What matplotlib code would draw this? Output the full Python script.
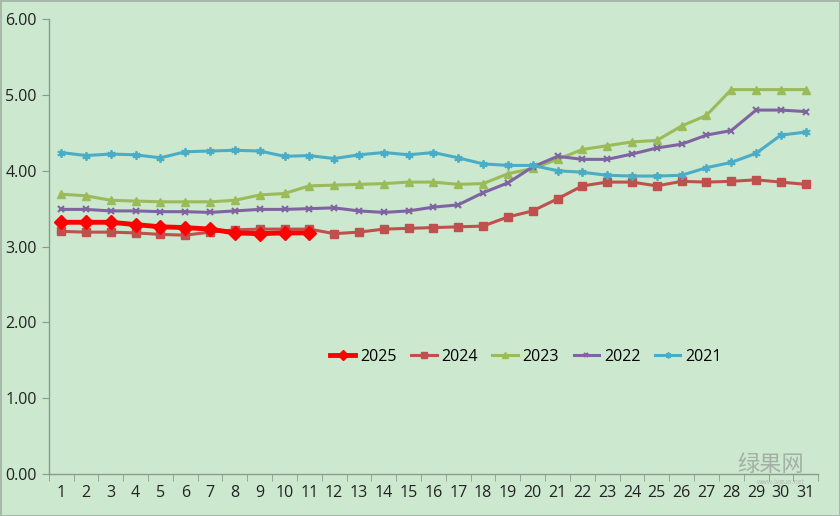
import numpy as np
import matplotlib
matplotlib.use("Agg")
import matplotlib.pyplot as plt

# 日期 (1-31)
days = list(range(1, 32))

y2025 = [3.32, 3.32, 3.32, 3.29, 3.26, 3.25, 3.23, 3.18, 3.17, 3.18, 3.18]
y2024 = [3.20, 3.19, 3.19, 3.18, 3.16, 3.15, 3.19, 3.22, 3.23, 3.23, 3.23,
         3.17, 3.19, 3.23, 3.24, 3.25, 3.26, 3.27, 3.39, 3.47, 3.63, 3.80,
         3.85, 3.85, 3.80, 3.86, 3.85, 3.86, 3.88, 3.85, 3.82]
y2023 = [3.69, 3.67, 3.61, 3.60, 3.59, 3.59, 3.59, 3.61, 3.68, 3.70, 3.80,
         3.81, 3.82, 3.83, 3.85, 3.85, 3.82, 3.83, 3.96, 4.03, 4.15, 4.28,
         4.33, 4.38, 4.40, 4.59, 4.73, 5.07, 5.07, 5.07, 5.07]
y2022 = [3.49, 3.49, 3.47, 3.47, 3.46, 3.46, 3.45, 3.47, 3.49, 3.49, 3.50,
         3.51, 3.47, 3.45, 3.47, 3.52, 3.55, 3.71, 3.84, 4.05, 4.19, 4.15,
         4.15, 4.22, 4.30, 4.35, 4.47, 4.53, 4.80, 4.80, 4.78]
y2021 = [4.24, 4.20, 4.22, 4.21, 4.17, 4.25, 4.26, 4.27, 4.26, 4.19, 4.20,
         4.16, 4.21, 4.24, 4.21, 4.24, 4.17, 4.09, 4.07, 4.07, 4.00, 3.98,
         3.94, 3.93, 3.93, 3.94, 4.04, 4.11, 4.23, 4.47, 4.51]

bg = '#cce8cf'
plt.rcParams['font.family'] = ['Open Sans', 'Noto Sans CJK SC', 'DejaVu Sans']

fig = plt.figure(figsize=(8.4, 5.16), dpi=100, facecolor=bg,
                 edgecolor='#a8b8aa', linewidth=2)
ax = fig.add_axes([0.058, 0.0814, 0.916, 0.8816])
ax.set_facecolor(bg)

# 2025 drawn last so it sits on top
ax.plot(days, y2024, color='#c0504d', lw=2.2, marker='s', ms=5.5, label='2024', zorder=3)
ax.plot(days, y2023, color='#9bbb59', lw=2.2, marker='^', ms=6, label='2023', zorder=3)
ax.plot(days, y2022, color='#8064a2', lw=2.2, marker='x', ms=5, mew=1.5, label='2022', zorder=3)
ax.plot(days, y2021, color='#4bacc6', lw=2.2, marker=(6, 2, 0), ms=6, mew=1.3, label='2021', zorder=3)
ax.plot(days[:len(y2025)], y2025, color='#ff0000', lw=3.5, marker='D', ms=7, label='2025', zorder=4)

ax.set_xlim(0.5, 31.5)
ax.set_ylim(0, 6)
ax.set_yticks(np.arange(0, 7, 1))
ax.set_yticklabels([f'{v:.2f}' for v in range(7)])
ax.set_xticks(days)
ax.set_xticks(np.arange(0.5, 32, 1), minor=True)
ax.tick_params(axis='x', which='major', length=0, labelsize=11.5, pad=8, colors='#222222')
ax.tick_params(axis='x', which='minor', length=5, color='#8a9a8c')
ax.tick_params(axis='y', length=5, labelsize=11.5, color='#8a9a8c', colors='#222222')
ax.tick_params(axis='y', which='both', color='#8a9a8c')

for s in ['top', 'right']:
    ax.spines[s].set_visible(False)
for s in ['left', 'bottom']:
    ax.spines[s].set_color('#8a9a8c')
    ax.spines[s].set_linewidth(1)

handles, labels = ax.get_legend_handles_labels()
order = [4, 0, 1, 2, 3]
ax.legend([handles[i] for i in order], [labels[i] for i in order],
          loc='center', bbox_to_anchor=(0.62, 0.257), ncol=5, frameon=False,
          fontsize=11.5, handlelength=1.6, columnspacing=0.9, handletextpad=0.3,
          markerscale=0.7)

# watermark
fig.text(0.917, 0.100, '绿果网', fontsize=16, color='#8a8a8a', alpha=0.6,
         ha='center', va='center', family=['Noto Sans CJK SC', 'DejaVu Sans'])
fig.text(0.93, 0.064, 'www.lvguo.net', fontsize=5, color='#9a9a9a', alpha=0.6,
         ha='center', va='center')

fig.savefig('out.png', dpi=100, facecolor=bg, edgecolor=fig.get_edgecolor())
